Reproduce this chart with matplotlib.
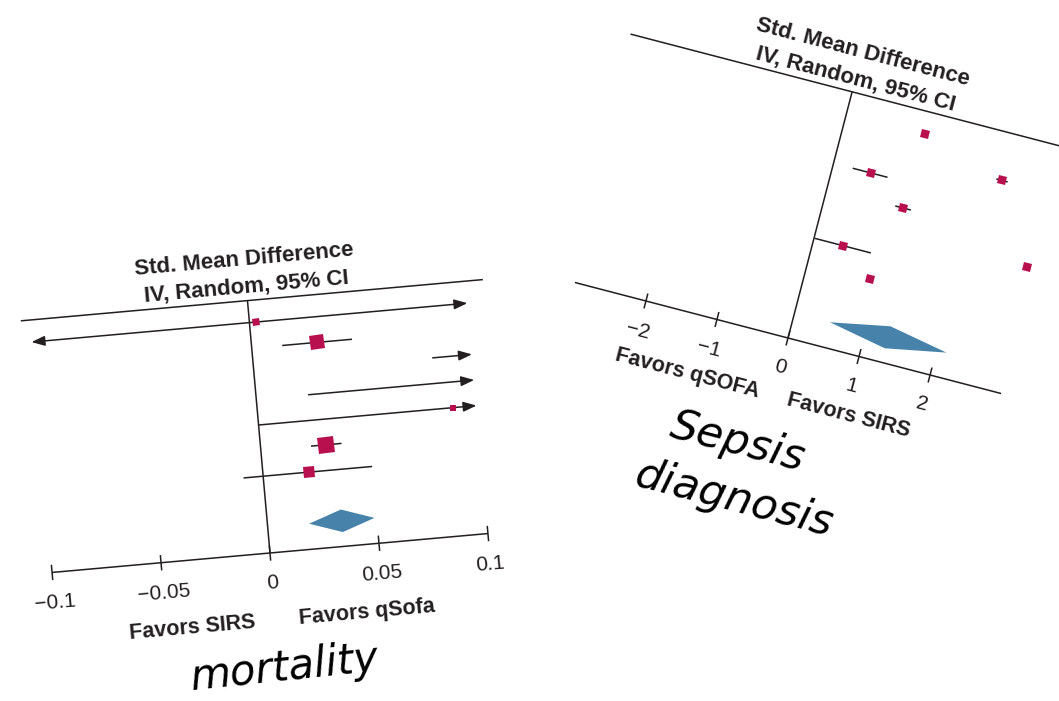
import matplotlib
matplotlib.use('Agg')
import matplotlib.pyplot as plt
from matplotlib.patches import FancyArrowPatch, Polygon
from matplotlib.markers import MarkerStyle
from matplotlib.transforms import Affine2D
import numpy as np

# mortality: standardized mean difference per study (row 1 at top)
mort_est = [0.003, 0.030, 0.15, 0.12, 0.089, 0.030, 0.021]
mort_lo = [-0.20, 0.014, 0.082, 0.024, 0.000, 0.023, -0.009]
mort_hi = [0.21, 0.046, 0.22, 0.22, 0.18, 0.037, 0.050]
mort_weight = [4.5, 18, 3, 3, 3.3, 24, 13]
mort_total = (0.034, 0.019, 0.049)
mort_ticks = [-0.1, -0.05, 0, 0.05, 0.1]
mort_ticklabels = ['\u22120.1', '\u22120.05', '0', '0.05', '0.1']

# sepsis diagnosis
sep_est = [1.11, 2.28, 0.53, 1.07, 2.90, 0.41, 0.88]
sep_lo = [1.07, 2.20, 0.27, 0.96, 2.86, 0.01, 0.84]
sep_hi = [1.15, 2.36, 0.76, 1.18, 2.94, 0.80, 0.92]
sep_weight = [5.5, 5.5, 5.5, 5.5, 5.5, 5.5, 5.5]
sep_total = (1.31, 0.50, 2.14)
sep_ticks = [-2, -1, 0, 1, 2]
sep_ticklabels = ['\u22122', '\u22121', '0', '1', '2']

W, H, DPI = 1059, 701, 100
fig = plt.figure(figsize=(W / DPI, H / DPI), dpi=DPI)
fig.patch.set_facecolor('white')

line_c = '#231f20'
square_c = '#b8104f'
diamond_c = '#4682a9'
font = 'Liberation Sans'


def make_panel(origin, px_unit, px_row, xlim, angle):
    ox, oy = origin
    ylim = (-7, 12.5)
    left = ox + xlim[0] * px_unit
    bottom = oy + ylim[0] * px_row
    ax = fig.add_axes([left / W, bottom / H,
                       (xlim[1] - xlim[0]) * px_unit / W,
                       (ylim[1] - ylim[0]) * px_row / H])
    ax.set_xlim(xlim)
    ax.set_ylim(ylim)
    ax.axis('off')
    tr = ax.transData + Affine2D().rotate_deg_around(ox, oy, angle)
    return ax, tr


def forest(ax, tr, angle, est, lo, hi, weight, total, ticks, ticklabels,
           axis_range, header_range, left_label, right_label, label_x, label_y):
    xmin, xmax = axis_range
    kw = dict(transform=tr, clip_on=False, color=line_c, lw=1.1, solid_capstyle='butt')
    n = len(est)
    rows = [n + 2 - i for i in range(n)]  # row 1 at y=9 ... row 7 at y=3
    header_y = 9.86

    # header rule and line of no effect
    ax.plot(header_range, [header_y, header_y], **kw)
    ax.plot([0, 0], [0, header_y], **kw)
    # horizontal axis with ticks
    ax.plot([xmin, xmax], [0, 0], **kw)
    for t, lab in zip(ticks, ticklabels):
        ax.plot([t, t], [-0.3, 0.3], **kw)
        ax.text(t, -1.18, lab, transform=tr, rotation=angle, rotation_mode='anchor',
                ha='center', va='center', fontsize=15, family=font, color=line_c)

    ax.text(0, 11.45, 'Std. Mean Difference', transform=tr, rotation=angle,
            rotation_mode='anchor', ha='center', va='center', fontsize=16,
            fontweight='bold', family=font, color=line_c)
    ax.text(0, 10.38, 'IV, Random, 95% CI', transform=tr, rotation=angle,
            rotation_mode='anchor', ha='center', va='center', fontsize=16,
            fontweight='bold', family=font, color=line_c)

    ax.text(-label_x[0], label_y, left_label, transform=tr, rotation=angle,
            rotation_mode='anchor', ha='center', va='center', fontsize=15.5,
            fontweight='bold', family=font, color=line_c)
    ax.text(label_x[1], label_y, right_label, transform=tr, rotation=angle,
            rotation_mode='anchor', ha='center', va='center', fontsize=15.5,
            fontweight='bold', family=font, color=line_c)

    sq = MarkerStyle('s', transform=Affine2D().rotate_deg(angle))
    for y, e, l, h, w in zip(rows, est, lo, hi, weight):
        lc, hc = max(l, xmin), min(h, xmax)
        left_out, right_out = l < xmin, h > xmax
        if left_out or right_out:
            style = {(True, True): '<|-|>', (True, False): '<|-',
                     (False, True): '-|>'}[(left_out, right_out)]
            arr = FancyArrowPatch((lc, y), (hc, y), transform=tr,
                                  arrowstyle=f'{style},head_length=0.8,head_width=0.3',
                                  mutation_scale=10, lw=1.1, color=line_c,
                                  shrinkA=0, shrinkB=0, clip_on=False)
            ax.add_patch(arr)
        else:
            ax.plot([l, h], [y, y], **kw)
        if xmin <= e <= xmax:
            side = 3.3 * np.sqrt(w) * 0.72
            ax.plot([e], [y], marker=sq, ms=side, mew=0, color=square_c,
                    transform=tr, clip_on=False, linestyle='none')

    c, l, h = total
    dh = 0.44
    ax.add_patch(Polygon([(l, 1), (c, 1 + dh), (h, 1), (c, 1 - dh)], closed=True,
                         transform=tr, facecolor=diamond_c, edgecolor='none',
                         clip_on=False))


# left panel: mortality
ang_m = 5.1
ax_m, tr_m = make_panel((270, 148), 2188, 25.7, (-0.1, 0.1), ang_m)
forest(ax_m, tr_m, ang_m, mort_est, mort_lo, mort_hi, mort_weight, mort_total,
       mort_ticks, mort_ticklabels, (-0.1, 0.1), [-0.104, 0.108],
       'Favors SIRS', 'Favors qSofa', (0.0385, 0.0417), -2.64)
ax_m.text(0.002, -4.5, 'mortality', transform=tr_m, rotation=6, rotation_mode='anchor',
          ha='center', va='center', fontsize=30, family='DejaVu Sans',
          style='italic', color='black')

# right panel: sepsis diagnosis
ang_s = -14.6
ax_s, tr_s = make_panel((788, 363), 73.4, 25.8, (-3, 3), ang_s)
forest(ax_s, tr_s, ang_s, sep_est, sep_lo, sep_hi, sep_weight, sep_total,
       sep_ticks, sep_ticklabels, (-3, 3), [-3.12, 3.6],
       'Favors qSOFA', 'Favors SIRS', (1.20, 1.06), -2.33)
ax_s.text(-0.30, -4.40, 'Sepsis', transform=tr_s, rotation=ang_s, rotation_mode='anchor',
          ha='center', va='center', fontsize=31, family='DejaVu Sans',
          style='italic', color='black')
ax_s.text(-0.17, -6.58, 'diagnosis', transform=tr_s, rotation=ang_s, rotation_mode='anchor',
          ha='center', va='center', fontsize=31, family='DejaVu Sans',
          style='italic', color='black')

fig.savefig('out.png', dpi=DPI, facecolor='white')
